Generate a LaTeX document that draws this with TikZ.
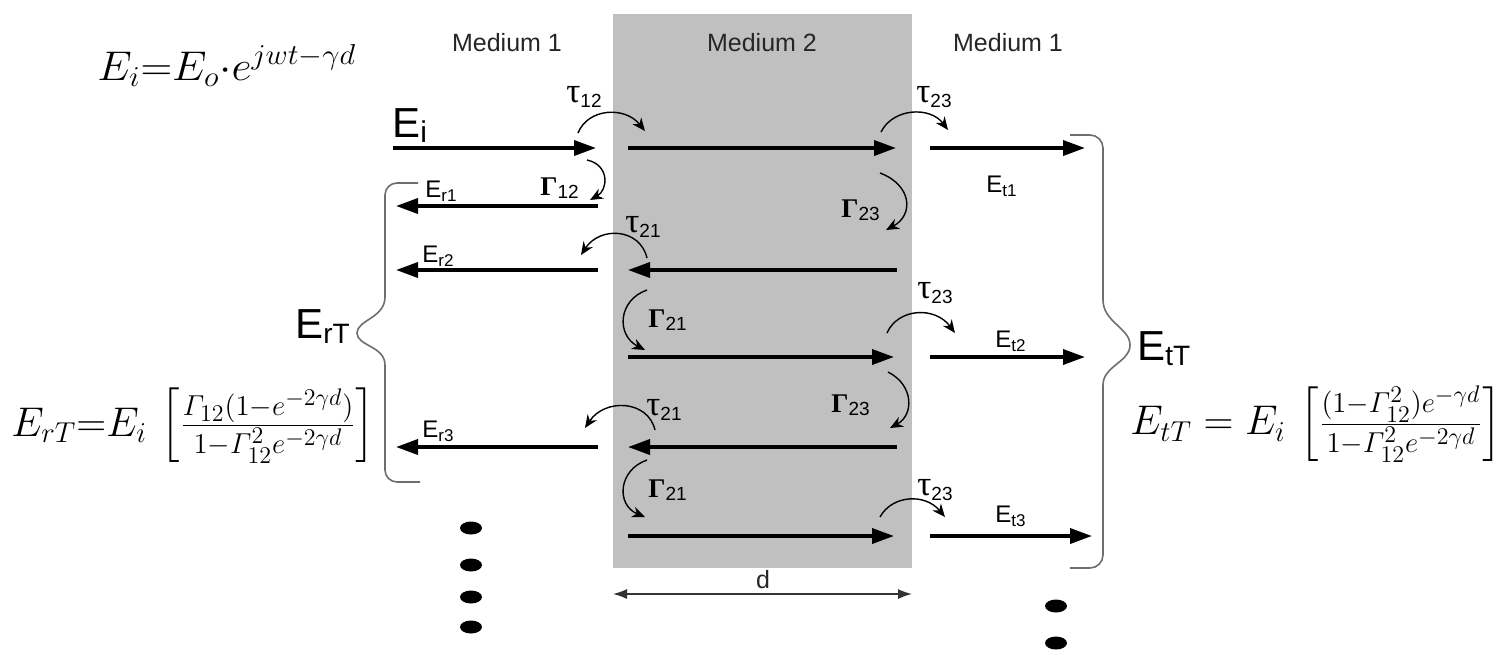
\documentclass[tikz,border=0pt]{standalone}
\usepackage{amsmath}
\usepackage[no-math]{fontspec}
\setmainfont{Liberation Sans}
\newfontfamily\grk{Liberation Serif}
\usetikzlibrary{arrows.meta}
\definecolor{mgray}{RGB}{192,192,192}
\definecolor{bracegray}{RGB}{110,110,110}
\newcommand\tausub[1]{{\fontsize{17.5}{18}\selectfont\grk τ}\raisebox{-2.6pt}{\fontsize{9.5}{10}\selectfont #1}}
\newcommand\gamsub[1]{{\fontsize{13.5}{15}\selectfont\grk\bfseries Γ}\raisebox{-1.6pt}{\fontsize{9.5}{10}\selectfont #1}}
\newcommand\esub[2]{#1\raisebox{-0.18em}{\fontsize{8.5}{10}\selectfont #2}}
\tikzset{
  ray/.style={line width=1.8pt, -{Triangle[length=11pt,width=7.5pt]}},
  bendarr/.style={line width=0.7pt, -{Stealth[length=6.5pt,width=5.5pt]}},
  lbl/.style={font=\fontsize{12}{14}\selectfont, inner sep=0pt, anchor=base west},
  grklbl/.style={inner sep=0pt, anchor=base west},
  biglbl/.style={font=\fontsize{21}{24}\selectfont, inner sep=0pt, anchor=base west},
  medlbl/.style={font=\fontsize{12.5}{14}\selectfont, text=black!85, inner sep=0pt},
  formula/.style={font=\fontsize{20.74}{25}\selectfont, inner sep=0pt},
  bracepath/.style={draw=bracegray, line width=0.8pt},
}
\begin{document}
\begin{tikzpicture}[x=0.5pt,y=-0.5pt]
\useasboundingbox (0,0) rectangle (1500,666);
% medium 2 slab
\fill[mgray] (613,14) rectangle (912,568);

% labels of media
\node[medlbl] (m1l) at (507,43) {Medium 1};
\node[medlbl] (m2) at (762,43) {Medium 2};
\node[medlbl] (m1r) at (1008,43) {Medium 1};

% formulas
\node[formula, anchor=base west, xscale=1.06] (fEi) at (97,80) {$E_i{=}E_o{\cdot}e^{jwt-\gamma d}$};
\node[formula, anchor=west] (fErT) at (11,426) {$E_{rT}{=}E_i\,\left[\frac{\varGamma_{12}(1-e^{-2\gamma d})}{1-\varGamma_{12}^2e^{-2\gamma d}}\right]$};
\node[formula, anchor=west] (fEtT) at (1130,424) {$E_{tT} = E_i\,\left[\frac{(1-\varGamma_{12}^2)e^{-\gamma d}}{1-\varGamma_{12}^2e^{-2\gamma d}}\right]$};

% arrow end points
\coordinate (L1s) at (393,148); \coordinate (L1e) at (596,148);
\coordinate (M1s) at (628,148); \coordinate (M1e) at (896,148);
\coordinate (R1s) at (930,148); \coordinate (R1e) at (1085,148);
\coordinate (L2s) at (598,206); \coordinate (L2e) at (396,206);
\coordinate (L3s) at (598,270); \coordinate (L3e) at (396,270);
\coordinate (M3s) at (897,270); \coordinate (M3e) at (628,270);
\coordinate (M4s) at (628,357); \coordinate (M4e) at (894,357);
\coordinate (R4s) at (930,357); \coordinate (R4e) at (1085,357);
\coordinate (L5s) at (598,447); \coordinate (L5e) at (396,447);
\coordinate (M5s) at (897,447); \coordinate (M5e) at (628,447);
\coordinate (M6s) at (628,536); \coordinate (M6e) at (894,536);
\coordinate (R6s) at (930,536); \coordinate (R6e) at (1092,536);

\draw[ray] (L1s) -- (L1e);
\draw[ray] (M1s) -- (M1e);
\draw[ray] (R1s) -- (R1e);
\draw[ray] (L2s) -- (L2e);
\draw[ray] (L3s) -- (L3e);
\draw[ray] (M3s) -- (M3e);
\draw[ray] (M4s) -- (M4e);
\draw[ray] (R4s) -- (R4e);
\draw[ray] (L5s) -- (L5e);
\draw[ray] (M5s) -- (M5e);
\draw[ray] (M6s) -- (M6e);
\draw[ray] (R6s) -- (R6e);

% curved arrows
\draw[bendarr] (578,133) .. controls (588,108) and (625,106) .. (645,131);
\draw[bendarr] (587,160) .. controls (610,165) and (608,190) .. (590,200);
\draw[bendarr] (881,132) .. controls (893,108) and (930,106) .. (948,130);
\draw[bendarr] (880,173) .. controls (912,185) and (914,215) .. (886,230);
\draw[bendarr] (647,258) .. controls (640,228) and (600,226) .. (581,255);
\draw[bendarr] (647,290) .. controls (618,300) and (616,335) .. (645,350);
\draw[bendarr] (887,333) .. controls (898,308) and (935,306) .. (955,333);
\draw[bendarr] (888,372) .. controls (914,385) and (914,415) .. (890,428);
\draw[bendarr] (655,430) .. controls (648,400) and (605,398) .. (585,428);
\draw[bendarr] (647,460) .. controls (618,470) and (616,505) .. (645,517);
\draw[bendarr] (880,517) .. controls (892,495) and (925,493) .. (945,517);

% small labels
\node[biglbl] (Ei) at (392,137) {E\raisebox{-0.12em}{\fontsize{15}{16}\selectfont i}};
\node[lbl] (Er1) at (425,197) {\esub{E}{r1}};
\node[lbl] (Er2) at (422,262) {\esub{E}{r2}};
\node[lbl] (Er3) at (422,437) {\esub{E}{r3}};
\node[lbl] (Et1) at (986,192) {\esub{E}{t1}};
\node[lbl] (Et2) at (995,347) {\esub{E}{t2}};
\node[lbl] (Et3) at (995,522) {\esub{E}{t3}};
\node[grklbl] (t12) at (566,102) {\tausub{12}};
\node[grklbl] (G12) at (540,195) {\gamsub{12}};
\node[grklbl] (t23a) at (916,102) {\tausub{23}};
\node[grklbl] (G23a) at (841,217) {\gamsub{23}};
\node[grklbl] (t21a) at (625,232) {\tausub{21}};
\node[grklbl] (G21a) at (648,327) {\gamsub{21}};
\node[grklbl] (t23b) at (917,298) {\tausub{23}};
\node[grklbl] (G23b) at (831,412) {\gamsub{23}};
\node[grklbl] (t21b) at (646,415) {\tausub{21}};
\node[grklbl] (G21b) at (648,497) {\gamsub{21}};
\node[grklbl] (t23c) at (917,495) {\tausub{23}};

% braces
\draw[bracepath] (418,183) -- (397,183) to[out=180,in=90] (385,195) -- (385,297)
  .. controls (385,318) and (357,320) .. (357,333)
  .. controls (357,346) and (385,346) .. (385,365) -- (385,470)
  to[out=-90,in=180] (397,482) -- (420,482);
\node[biglbl] (ErT) at (295,338) {E\raisebox{-0.12em}{\fontsize{14}{15}\selectfont rT}};
\draw[bracepath] (1070,135) -- (1090,135) to[out=0,in=90] (1103,148) -- (1103,300)
  .. controls (1103,322) and (1130,328) .. (1130,345)
  .. controls (1130,362) and (1103,366) .. (1103,385) -- (1103,555)
  to[out=-90,in=0] (1090,568) -- (1070,568);
\node[biglbl] (EtT) at (1137,360) {E\raisebox{-0.12em}{\fontsize{14}{15}\selectfont tT}};

% thickness d
\coordinate (dL) at (613,594); \coordinate (dR) at (912,594);
\draw[line width=0.7pt, draw=black!80, {Latex[length=7pt,width=5pt]}-{Latex[length=7pt,width=5pt]}] (dL) -- (dR);
\node[medlbl] (dlab) at (763,580) {d};

% continuation dots
\foreach \yy in {528,565,597,627} \fill (471,\yy) ellipse [x radius=11, y radius=6.5];
\foreach \yy in {606,643} \fill (1056,\yy) ellipse [x radius=11, y radius=6.5];
\end{tikzpicture}
\end{document}
